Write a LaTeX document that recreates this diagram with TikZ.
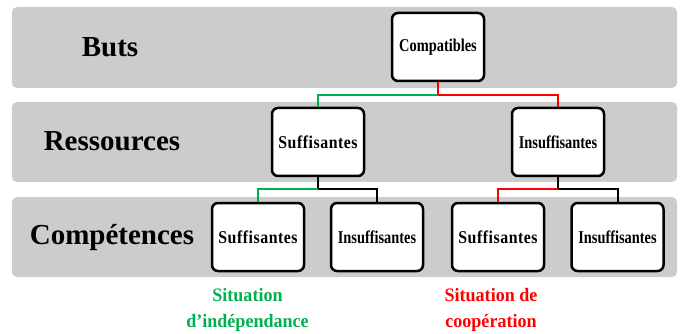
\documentclass[tikz,border=0pt]{standalone}
\usepackage{fontspec}
\setmainfont{LiberationSerif}[Extension=.ttf,UprightFont=*-Regular,BoldFont=*-Bold,ItalicFont=*-Italic,BoldItalicFont=*-BoldItalic]
\newfontfamily\boxfont{LiberationSerif}[Extension=.ttf,UprightFont=*-Regular,BoldFont=*-Bold,FakeStretch=0.8]
\newfontfamily\sufffont{LiberationSerif}[Extension=.ttf,UprightFont=*-Regular,BoldFont=*-Bold,FakeStretch=0.88,LetterSpace=3]
\newfontfamily\sitfont{LiberationSerif}[Extension=.ttf,UprightFont=*-Regular,BoldFont=*-Bold,FakeStretch=0.95]
\definecolor{bandgray}{HTML}{CCCCCC}
\definecolor{okgreen}{HTML}{00B050}
\definecolor{kored}{HTML}{FF0000}
\begin{document}
\begin{tikzpicture}[x=1pt,y=-1pt,
  band/.style={fill=bandgray,draw=none,rounded corners=5pt},
  rowlabel/.style={font=\fontsize{29}{31}\selectfont\bfseries,inner sep=0pt},
  boxnode/.style={draw=black,line width=2.5pt,fill=white,rounded corners=6pt,
    minimum width=92pt,minimum height=68pt,inner sep=0pt,
    font=\boxfont\fontsize{18}{20}\selectfont\bfseries},
  suffnode/.style={boxnode,font=\sufffont\fontsize{18}{20}\selectfont\bfseries},
  link/.style={line width=2pt},
  sitlabel/.style={font=\sitfont\fontsize{19}{26}\selectfont\bfseries,align=center,inner sep=0pt,anchor=north}
]
\useasboundingbox (0,0) rectangle (683,334);
% bands
\path[band] (12,7) rectangle (677,88);
\path[band] (12,102) rectangle (677,182);
\path[band] (12,197) rectangle (677,277);
% row labels
\node[rowlabel] (lbuts) at (110,47) {Buts};
\node[rowlabel] (lres) at (112,141) {Ressources};
\node[rowlabel] (lcomp) at (112,238) {Compétences};
% boxes
\node[boxnode] (comp) at (438,47) {Compatibles};
\node[suffnode] (rs) at (318,142) {Suffisantes};
\node[boxnode] (ri) at (558,142) {Insuffisantes};
\node[suffnode] (cs1) at (258,237) {Suffisantes};
\node[boxnode] (ci1) at (377,237) {Insuffisantes};
\node[suffnode] (cs2) at (498,237) {Suffisantes};
\node[boxnode] (ci2) at (617.5,237) {Insuffisantes};
% junctions
\coordinate (j1) at (438,95);
\coordinate (j2) at (318,189);
\coordinate (j3) at (558,189);
% connectors
\draw[link,kored] (comp.south) -- (j1) -| (ri.north);
\draw[link,okgreen] (j1) -| (rs.north);
\draw[link,black] (rs.south) -- (j2) -| (ci1.north);
\draw[link,okgreen] (j2) -| (cs1.north);
\draw[link,black] (ri.south) -- (j3) -| (ci2.north);
\draw[link,kored] (j3) -| (cs2.north);
% situation labels
\node[sitlabel,text=okgreen] (sit1) at (247.5,288) {Situation\\d’indépendance};
\node[sitlabel,text=kored] (sit2) at (491,288) {Situation de\\coopération};
\end{tikzpicture}
\end{document}
